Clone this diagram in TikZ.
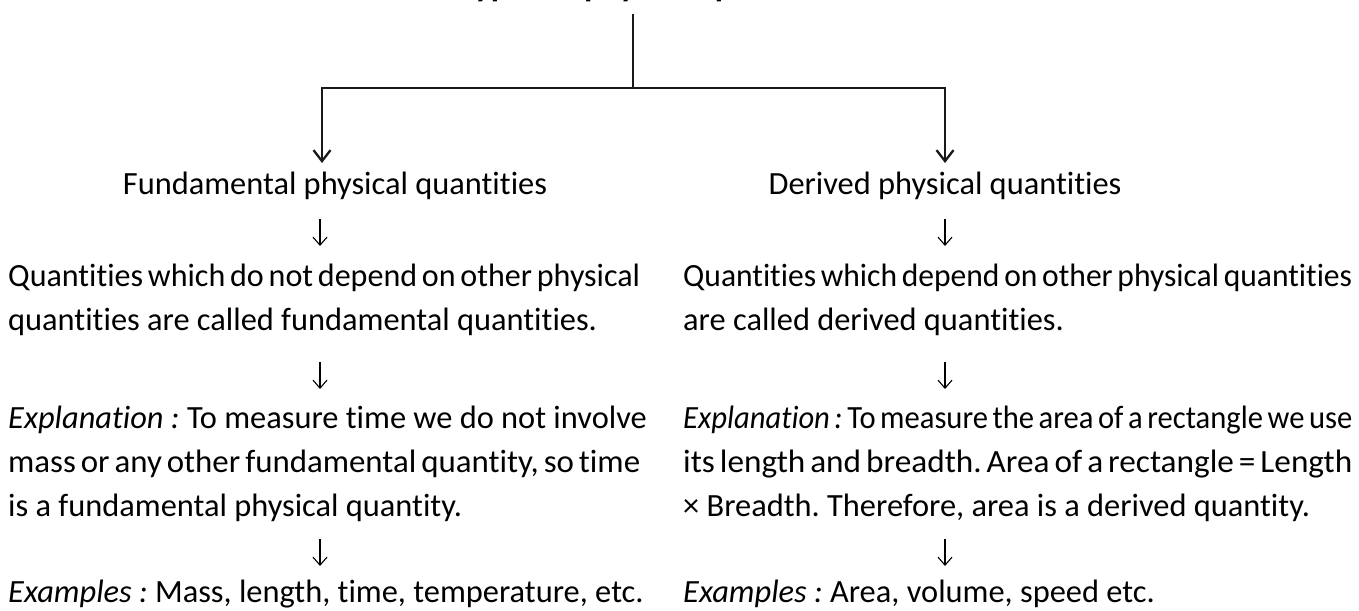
\documentclass[tikz,border=0pt]{standalone}
\usepackage{graphicx}
\usepackage{fontspec}
\setmainfont{Carlito}[Ligatures={CommonOff,ContextualOff}]
\usetikzlibrary{arrows.meta}
\frenchspacing

% a line set flush to both margins: narrow word spaces, then fitted to the width
\newcommand{\fullline}[2]{\resizebox{#1}{\height}{\spaceskip=0.15em\relax #2}}

\begin{document}
\begin{tikzpicture}[x=1pt,y=-1pt,
  txt/.style={anchor=base west,inner sep=0pt,font=\fontsize{32.4}{40}\selectfont},
  headtxt/.style={anchor=base,inner sep=0pt,font=\fontsize{32.4}{40}\selectfont},
  titletxt/.style={anchor=base,inner sep=0pt,font=\fontsize{34}{40}\selectfont\bfseries},
  branch/.style={line width=2.3pt,draw=black!90},
  bigarrow/.style={branch,-{Straight Barb[length=11pt,width=17pt,line width=2.3pt]}},
  smallarrow/.style={line width=1.1pt,-{Straight Barb[length=8pt,width=14pt,line width=1.1pt]}}
]
\clip (0,0) rectangle (1359,610);
\fill[white] (0,0) rectangle (1359,610);

% title (runs past the top edge)
\node[titletxt] (title) at (653,-3) {Types of physical quantities};

% branching connector
\coordinate (top) at (633,14);
\coordinate (j) at (633,88);
\coordinate (lt) at (322,163);
\coordinate (rt) at (945,163);
\draw[branch] (top) -- (j);
\draw[bigarrow] (j) -| (lt);
\draw[bigarrow] (j) -| (rt);

% left column
\node[headtxt] (fund) at (335,194) {Fundamental physical quantities};
\node[txt] (l1) at (8,286) {\fullline{632pt}{Quantities which do not depend on other physical}};
\node[txt] (l2) at (8,330) {quantities are called fundamental quantities.};
\node[txt] (le1) at (8,428) {\textit{Explanation :} To measure time we do not involve};
\node[txt] (le2) at (8,472) {\fullline{632pt}{mass or any other fundamental quantity, so time}};
\node[txt] (le3) at (8,516) {is a fundamental physical quantity.};
\node[txt] (lx) at (8,602) {\textit{Examples :} Mass, length, time, temperature, etc.};

% right column
\node[headtxt] (der) at (945,194) {Derived physical quantities};
\node[txt] (r1) at (683,286) {\fullline{669pt}{Quantities which depend on other physical quantities}};
\node[txt] (r2) at (683,330) {are called derived quantities.};
\node[txt] (re1) at (683,428) {\fullline{669pt}{\textit{Explanation :} To measure the area of a rectangle we use}};
\node[txt] (re2) at (683,472) {\fullline{669pt}{its length and breadth. Area of a rectangle = Length}};
\node[txt] (re3) at (683,516) {× Breadth. Therefore, area is a derived quantity.};
\node[txt] (rx) at (683,602) {\textit{Examples :} Area, volume, speed etc.};

% small downward arrows between the steps
\foreach \n/\x/\y in {a/320/219, b/320/362, c/320/539, d/945/219, e/945/362, f/945/539}{
  \coordinate (\n s) at (\x,\y);
  \coordinate (\n e) at (\x,\y+27);
  \draw[smallarrow] (\n s) -- (\n e);
}
\end{tikzpicture}
\end{document}
